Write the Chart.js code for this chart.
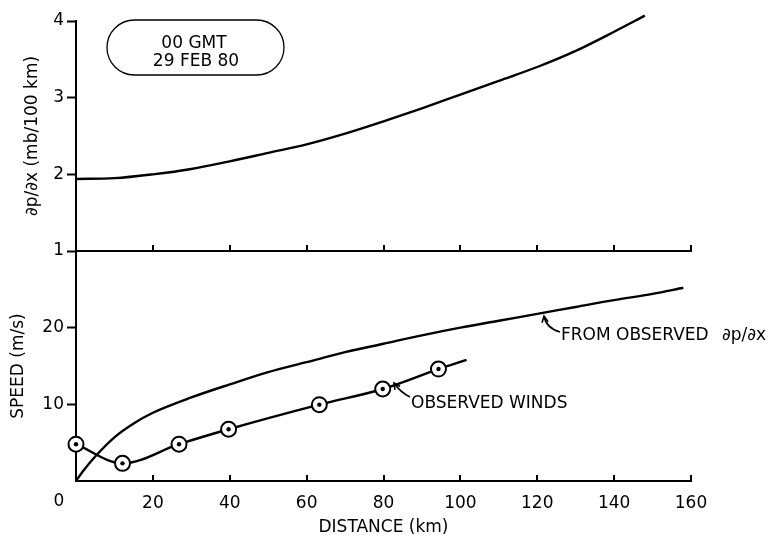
<!DOCTYPE html>
<html><head><meta charset="utf-8">
<script src="https://cdn.jsdelivr.net/npm/chart.js@4.4.0/dist/chart.umd.min.js"></script>
<style>html,body{margin:0;padding:0;background:#fff}#wrap{width:777px;height:536px}</style>
</head><body><div id="wrap"><canvas id="c" width="777" height="536"></canvas></div>
<script>
// ---- data ----
const distanceTicks = [0, 20, 40, 60, 80, 100, 120, 140, 160];
const gradientTicks = [1, 2, 3, 4];
const speedTicks = [10, 20];

// pressure gradient dp/dx (mb/100 km) vs distance (km)
const gradDist  = [0, 10, 20, 30, 40, 50, 60, 70, 80, 90, 100, 110, 120, 130, 140, 148];
const gradValue = [1.94, 1.95, 2.0, 2.07, 2.17, 2.28, 2.39, 2.53, 2.69, 2.86, 3.04, 3.22, 3.40, 3.61, 3.86, 4.07];

// speed computed from observed dp/dx (m/s)
const geoDist  = [0, 2, 5, 10, 15, 20, 30, 40, 50, 60, 70, 80, 90, 100, 110, 120, 130, 140, 150, 158];
const geoSpeed = [0, 1.4, 3.2, 5.7, 7.5, 8.9, 10.9, 12.6, 14.2, 15.5, 16.8, 17.9, 19.0, 20.0, 20.9, 21.8, 22.7, 23.6, 24.4, 25.2];

// observed winds (m/s)
const obsDist  = [0, 12.1, 26.8, 39.7, 63.3, 79.8, 94.3];
const obsSpeed = [4.8, 2.3, 4.8, 6.75, 9.96, 12.0, 14.6];
const obsLineEndDist = 101.6;
const obsLineEndSpeed = 15.8;

// ---- helpers ----
const zip = (xs, ys) => xs.map((x, i) => ({x: x, y: ys[i]}));
const FONT = 'DejaVu Sans';
const BLACK = '#000';

function drawArrow(ctx, tail, ctrl, tip) {
  ctx.beginPath();
  ctx.moveTo(tail[0], tail[1]);
  ctx.quadraticCurveTo(ctrl[0], ctrl[1], tip[0], tip[1]);
  ctx.stroke();
  const ang = Math.atan2(tip[1] - ctrl[1], tip[0] - ctrl[0]);
  const L = 7, a = 0.45;
  ctx.beginPath();
  ctx.moveTo(tip[0] - L * Math.cos(ang - a), tip[1] - L * Math.sin(ang - a));
  ctx.lineTo(tip[0], tip[1]);
  ctx.lineTo(tip[0] - L * Math.cos(ang + a), tip[1] - L * Math.sin(ang + a));
  ctx.stroke();
}

const decor = {
  id: 'decor',
  afterDraw(chart) {
    const ctx = chart.ctx;
    const xs = chart.scales.x, yg = chart.scales.yGrad, ys = chart.scales.ySpeed;
    const yMid = yg.getPixelForValue(gradientTicks[0]);
    const yBot = ys.getPixelForValue(0);
    ctx.save();
    ctx.strokeStyle = BLACK; ctx.fillStyle = BLACK;
    // divider between the two panels
    ctx.lineWidth = 2;
    ctx.beginPath();
    ctx.moveTo(xs.left, yMid); ctx.lineTo(xs.right + 1, yMid);
    ctx.stroke();
    // inward tick marks on both horizontal axes
    distanceTicks.forEach(v => {
      if (v === 0) return;
      const px = Math.round(xs.getPixelForValue(v));
      [yMid, yBot].forEach(yy => {
        ctx.beginPath(); ctx.moveTo(px, yy); ctx.lineTo(px, yy - 6); ctx.stroke();
      });
    });
    // "0" label set left of the axis corner
    ctx.font = '17px "' + FONT + '"';
    ctx.textAlign = 'center'; ctx.textBaseline = 'middle';
    ctx.fillText('0', xs.getPixelForValue(0) - 17, yBot + 21);
    // date box
    ctx.lineWidth = 1.3;
    ctx.beginPath();
    ctx.roundRect(107, 20, 177, 55, 27.5);
    ctx.stroke();
    ctx.fillText('00 GMT', 194, 44);
    ctx.fillText('29 FEB 80', 196, 62);
    // annotations
    ctx.textAlign = 'left'; ctx.textBaseline = 'alphabetic';
    ctx.fillText('FROM OBSERVED', 561, 340);
    ctx.fillText('\u2202p/\u2202x', 722, 340);
    ctx.fillText('OBSERVED WINDS', 411, 408);
    ctx.lineWidth = 1.6;
    drawArrow(ctx, [560, 332], [546, 328], [544, 316]);
    drawArrow(ctx, [410, 397], [400, 392], [394, 383]);
    ctx.restore();
  }
};

const lineStyle = {
  borderColor: BLACK, borderWidth: 2.4, pointRadius: 0, order: 3,
  tension: 0.4, cubicInterpolationMode: 'monotone', clip: false, fill: false
};

new Chart(document.getElementById('c'), {
  type: 'line',
  data: {
    datasets: [
      Object.assign({label: 'dp/dx', yAxisID: 'yGrad', data: zip(gradDist, gradValue)}, lineStyle),
      Object.assign({label: 'From observed dp/dx', yAxisID: 'ySpeed', data: zip(geoDist, geoSpeed)}, lineStyle),
      Object.assign({label: 'Observed winds line', yAxisID: 'ySpeed',
        data: zip(obsDist.concat([obsLineEndDist]), obsSpeed.concat([obsLineEndSpeed]))}, lineStyle),
      {label: 'Observed winds', yAxisID: 'ySpeed', data: zip(obsDist, obsSpeed), showLine: false, order: 2,
        pointRadius: 7.5, pointBackgroundColor: '#fff', pointBorderColor: BLACK, pointBorderWidth: 2, clip: false},
      {label: 'Observed winds centre', yAxisID: 'ySpeed', data: zip(obsDist, obsSpeed), showLine: false, order: 1,
        pointRadius: 2.2, pointBackgroundColor: BLACK, pointBorderColor: BLACK, pointBorderWidth: 0, clip: false}
    ]
  },
  options: {
    responsive: false,
    animation: false,
    layout: {padding: {left: 0, right: 86, top: 21, bottom: 0}},
    plugins: {legend: {display: false}, tooltip: {enabled: false}},
    scales: {
      x: {
        type: 'linear', position: 'bottom', min: 0, max: 160,
        afterBuildTicks: s => { s.ticks = distanceTicks.map(v => ({value: v})); },
        afterFit: s => { s.height = 55; },
        grid: {display: true, drawOnChartArea: false, drawTicks: false, color: BLACK},
        border: {display: true, color: BLACK, width: 2},
        ticks: {color: BLACK, font: {family: FONT, size: 17}, padding: 12, maxRotation: 0,
          callback: v => (v === 0 ? '' : String(v))},
        title: {display: true, text: 'DISTANCE (km)', color: BLACK, font: {family: FONT, size: 17},
          padding: {top: 4, bottom: -2}}
      },
      ySpeed: {
        type: 'linear', position: 'left', stack: 'panels', stackWeight: 1, min: 0, max: 30,
        afterBuildTicks: s => { s.ticks = speedTicks.map(v => ({value: v})); },
        afterFit: s => { s.width = 76; },
        grid: {drawOnChartArea: false, tickLength: 9, tickWidth: 2, color: BLACK},
        border: {color: BLACK, width: 2},
        ticks: {color: BLACK, font: {family: FONT, size: 17}, padding: 3},
        title: {display: true, text: 'SPEED (m/s)', color: BLACK, font: {family: FONT, size: 17},
          padding: {top: 8, bottom: 0}}
      },
      yGrad: {
        type: 'linear', position: 'left', stack: 'panels', stackWeight: 1, min: 1, max: 4,
        afterBuildTicks: s => { s.ticks = gradientTicks.map(v => ({value: v})); },
        afterFit: s => { s.width = 76; },
        grid: {drawOnChartArea: false, tickLength: 9, tickWidth: 2, color: BLACK},
        border: {color: BLACK, width: 2},
        ticks: {color: BLACK, font: {family: FONT, size: 17}, padding: 3},
        title: {display: true, text: '\u2202p/\u2202x (mb/100 km)', color: BLACK, font: {family: FONT, size: 17},
          padding: {top: 22, bottom: 0}}
      }
    }
  },
  plugins: [decor]
});
</script>
</body></html>
